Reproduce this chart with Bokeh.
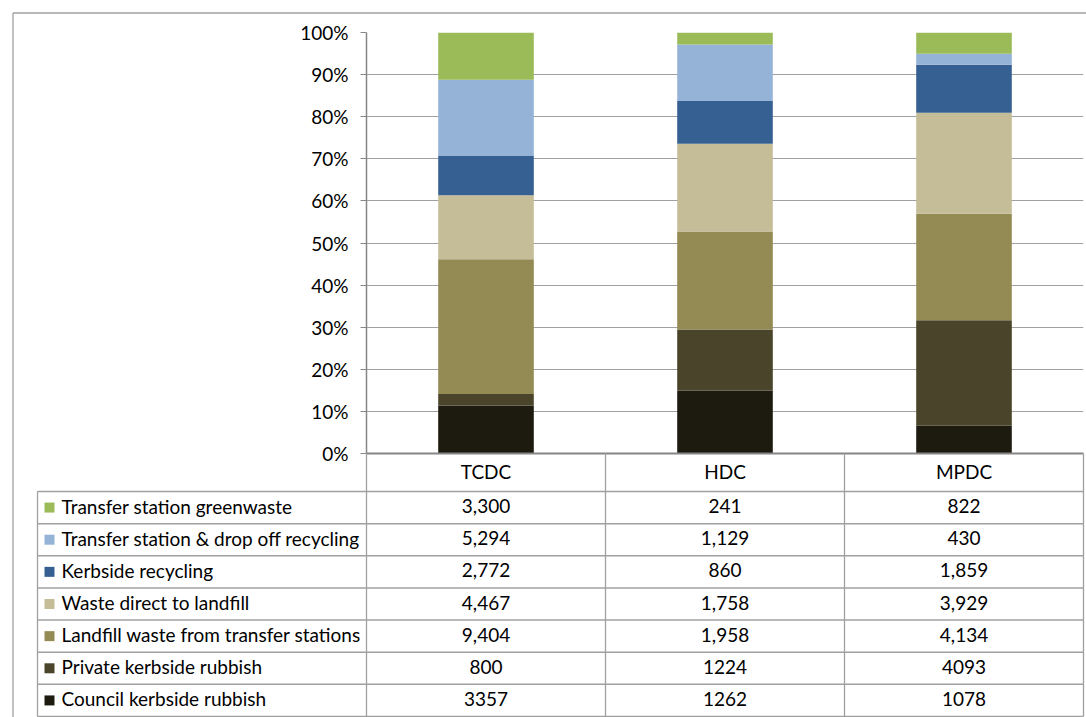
import numpy as np
import pandas as pd
from bokeh.plotting import figure
from bokeh.models import Range1d, FixedTicker, NumeralTickFormatter, ColumnDataSource
from bokeh.core.properties import value
from bokeh.embed import file_html
from bokeh.resources import INLINE

# ---- data (tonnes per year) ----
councils = ["TCDC", "HDC", "MPDC"]

# stacked from the bottom up
series_names = [
    "Council kerbside rubbish",
    "Private kerbside rubbish",
    "Landfill waste from transfer stations",
    "Waste direct to landfill",
    "Kerbside recycling",
    "Transfer station & drop off recycling",
    "Transfer station greenwaste",
]
council_kerbside_rubbish = [3357, 1262, 1078]
private_kerbside_rubbish = [800, 1224, 4093]
landfill_from_transfer = [9404, 1958, 4134]
direct_to_landfill = [4467, 1758, 3929]
kerbside_recycling = [2772, 860, 1859]
transfer_dropoff_recycling = [5294, 1129, 430]
transfer_greenwaste = [3300, 241, 822]

# the two kerbside rubbish rows are printed without thousands separators
uses_separator = [False, False, True, True, True, True, True]

pct_ticks = [0.0, 0.1, 0.2, 0.3, 0.4, 0.5, 0.6, 0.7, 0.8, 0.9, 1.0]

colors = ["#1D1B10", "#4A452A", "#948A54", "#C4BD97", "#366092", "#95B3D7", "#9BBB59"]

all_series = [council_kerbside_rubbish, private_kerbside_rubbish, landfill_from_transfer,
              direct_to_landfill, kerbside_recycling, transfer_dropoff_recycling,
              transfer_greenwaste]
keys = [f"s{i}" for i in range(len(series_names))]

df = pd.DataFrame({k: v for k, v in zip(keys, all_series)}, index=councils)
share = df.div(df.sum(axis=1), axis=0)
# one category slot per council, bar centred in its slot
slot_x = [i + 0.5 for i in range(len(councils))]
src = ColumnDataSource(dict(x=slot_x, council=councils, **{k: share[k].tolist() for k in keys}))

FONT = "Lato"
GRID = "#a0a0a0"
AXIS = "#868686"
TEXT_SIZE = "19px"

# ---- page geometry (pixels) ----
PAGE_W, PAGE_H = 1086, 717
PLOT_L, PLOT_R = 366, 1083
PLOT_T, PLOT_B = 32, 453
FRAME_XY = 12.5                # outer chart border
LEG_L = 37                     # left edge of the table's label column
ROW_T, ROW_B = 491, 716        # body rows of the table
TEXT_DY = -1.5                 # optical centring of cell text

p = figure(
    x_range=Range1d(0, len(councils)),
    y_range=Range1d(0, 1),
    width=PAGE_W, height=PAGE_H,
    min_border_left=PLOT_L, min_border_right=PAGE_W - PLOT_R,
    min_border_top=PLOT_T, min_border_bottom=PAGE_H - PLOT_B,
    x_axis_location=None,
    output_backend="svg", toolbar_location=None,
)
# pixel-like coordinates for the table and border drawn around the plot area
p.extra_x_ranges = {"px": Range1d(PLOT_L, PLOT_R)}
p.extra_y_ranges = {"py": Range1d(PLOT_B, PLOT_T)}

# ---- stacked 100% bars ----
p.vbar_stack(keys, x="x", width=0.4, color=colors, line_color=None, source=src)

p.xgrid.visible = False
p.ygrid.ticker = FixedTicker(ticks=pct_ticks)
p.ygrid.grid_line_color = GRID
p.ygrid.grid_line_width = 1.2
ax = p.yaxis[0]
ax.ticker = FixedTicker(ticks=pct_ticks)
ax.formatter = NumeralTickFormatter(format="0%")
ax.axis_line_color = AXIS
ax.axis_line_width = 1.5
ax.major_tick_line_color = AXIS
ax.major_tick_out = 6
ax.major_tick_in = 0
ax.minor_tick_line_color = None
ax.major_label_text_font = FONT
ax.major_label_text_font_size = TEXT_SIZE
ax.major_label_text_color = "#000000"
ax.major_label_standoff = 12
p.outline_line_color = None

OV = dict(x_range_name="px", y_range_name="py", level="overlay")

# ---- outer border ----
p.segment(x0=[FRAME_XY, FRAME_XY], y0=[FRAME_XY, FRAME_XY], x1=[PAGE_W, FRAME_XY], y1=[FRAME_XY, PAGE_H],
          line_color=GRID, line_width=1.3, **OV)

# ---- data table ----
n_rows = len(series_names)
row_h = (ROW_B - ROW_T) / n_rows
col_w = (PLOT_R - PLOT_L) / len(councils)
col_edges = [PLOT_L + i * col_w for i in range(len(councils) + 1)]
col_mid = [PLOT_L + (i + 0.5) * col_w for i in range(len(councils))]

# horizontal rules
hy = [ROW_T + i * row_h for i in range(n_rows + 1)]
p.segment(x0=[LEG_L] * len(hy), y0=hy, x1=[PLOT_R] * len(hy), y1=hy,
          line_color=GRID, line_width=1.5, **OV)
p.segment(x0=[PLOT_L], y0=[PLOT_B], x1=[PLOT_R], y1=[PLOT_B], line_color=AXIS, line_width=2, **OV)
# vertical rules
vx = [LEG_L] + col_edges
vtop = [ROW_T] + [PLOT_B] * len(col_edges)
p.segment(x0=vx, y0=vtop, x1=vx, y1=[ROW_B] * len(vx), line_color=GRID, line_width=1.3, **OV)

TXT = dict(text_font=value(FONT), text_font_size=TEXT_SIZE, text_color="#000000",
           text_baseline="middle", **OV)

# header
p.text(x=col_mid, y=[(PLOT_B + ROW_T) / 2 + TEXT_DY] * len(councils), text=councils,
       text_align="center", **TXT)

# body rows: top row is the top of the stack
order = list(range(n_rows))[::-1]
row_y = [ROW_T + (r + 0.5) * row_h for r in range(n_rows)]
sw = 10
p.rect(x=[LEG_L + 7 + sw / 2] * n_rows, y=row_y, width=sw, height=sw,
       color=[colors[i] for i in order], line_color=None, **OV)
p.text(x=[LEG_L + 24] * n_rows, y=[y + TEXT_DY for y in row_y], text=[series_names[i] for i in order],
       text_align="left", **TXT)

cell_x, cell_y, cell_t = [], [], []
for r, i in enumerate(order):
    for c, name in enumerate(councils):
        v = int(df.loc[name, keys[i]])
        cell_x.append(col_mid[c])
        cell_y.append(row_y[r] + TEXT_DY)
        cell_t.append(f"{v:,}" if uses_separator[i] else f"{v}")
p.text(x=cell_x, y=cell_y, text=cell_t, text_align="center", **TXT)

open("out.html", "w").write(file_html(p, INLINE))
